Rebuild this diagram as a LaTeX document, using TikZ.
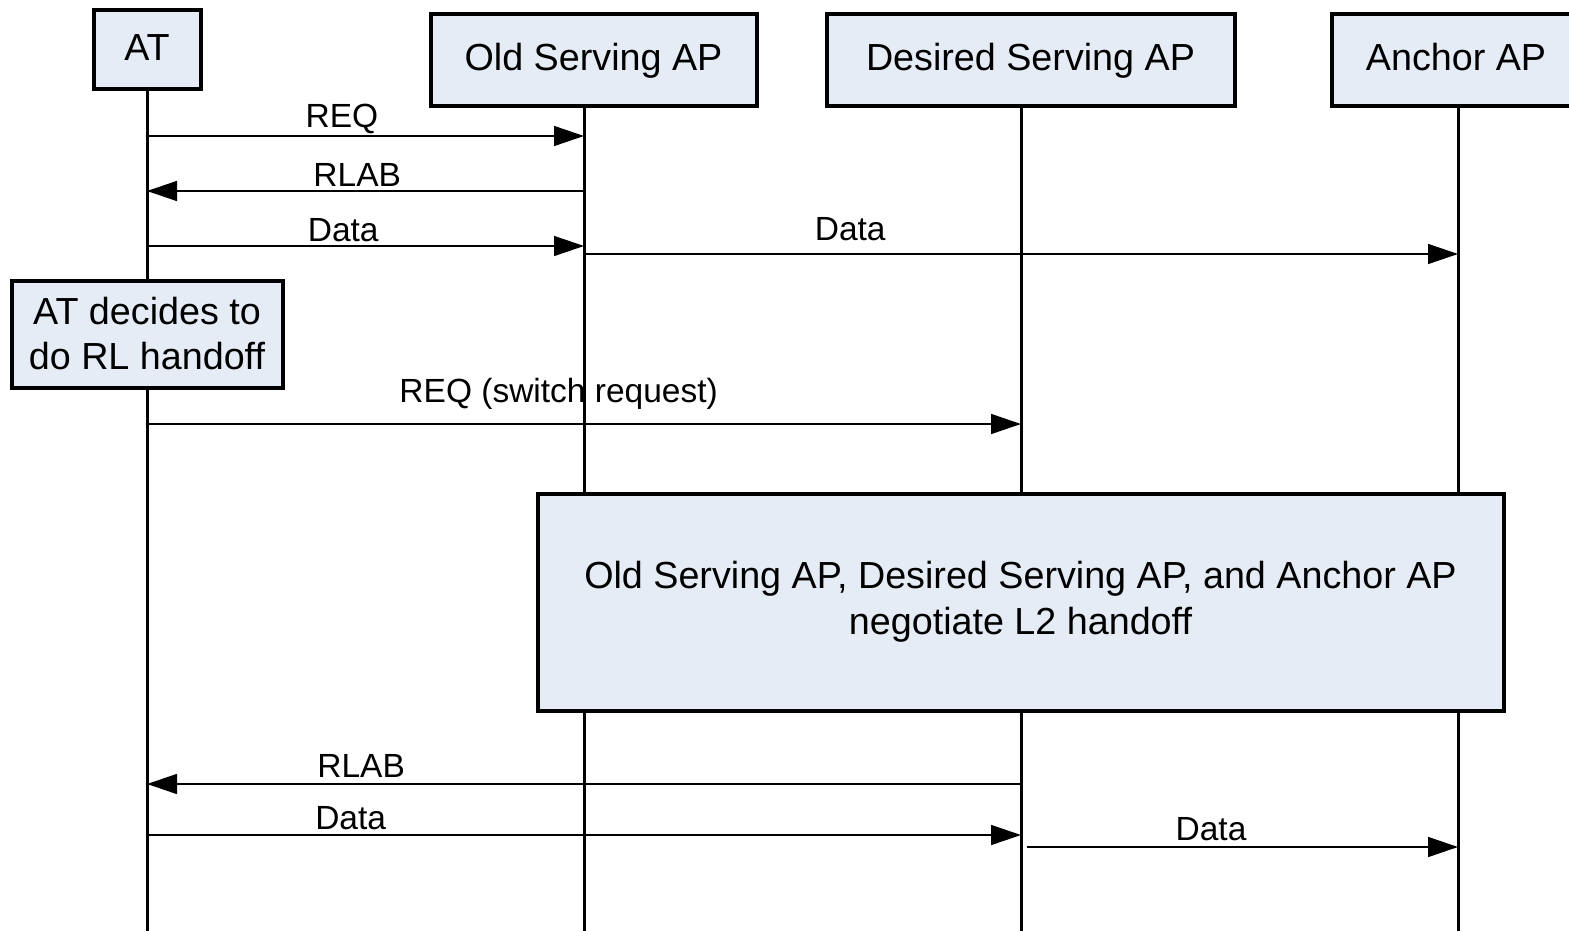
\documentclass[tikz,border=0pt]{standalone}
\usepackage{fontspec}
\setmainfont{Liberation Sans}
\usetikzlibrary{positioning,arrows.meta}
\definecolor{boxfill}{RGB}{230,236,246}
\tikzset{
  actor/.style={draw, line width=4pt, fill=boxfill, minimum height=92pt, align=center,
    font=\fontsize{37.7}{45}\selectfont},
  head/.style={actor, text height=27pt, text depth=6pt},
  life/.style={line width=3pt},
  msg/.style={line width=1.5pt, -{Triangle[length=30pt,width=20pt]}},
  lbl/.style={anchor=base, inner sep=0pt, font=\fontsize{33.5}{40}\selectfont},
}

\begin{document}
\begin{tikzpicture}[x=1pt, y=-1pt]
  \useasboundingbox (0,0) rectangle (1569,931);

  % lifelines
  \coordinate (ATl) at (147,931);
  \coordinate (OSAPl) at (584,931);
  \coordinate (DSAPl) at (1021,931);
  \coordinate (AAPl) at (1458,931);
  \draw[life] (ATl |- 0,90) -- (ATl);
  \draw[life] (OSAPl |- 0,106) -- (OSAPl);
  \draw[life] (DSAPl |- 0,106) -- (DSAPl);
  \draw[life] (AAPl |- 0,106) -- (AAPl);

  % participants
  \node[head, minimum width=107pt, minimum height=79pt] (AT) at (147,50) {AT};
  \node[head, minimum width=326pt] (OSAP) at (593.5,60) {Old Serving AP};
  \node[head, minimum width=408pt] (DSAP) at (1030.5,60) {Desired Serving AP};
  \node[head, minimum width=248pt] (AAP) at (1456,60) {Anchor AP};

  \node[actor, minimum width=271pt, minimum height=107pt] (DEC) at (147,334) {AT decides to\\do RL handoff};
  \node[actor, minimum width=966pt, minimum height=217pt, font=\fontsize{37.7}{46}\selectfont] (NEG) at (1020.5,602)
    {Old Serving AP, Desired Serving AP, and Anchor AP\\negotiate L2 handoff};

  % messages
  \draw[msg] (ATl |- 0,136) -- node[lbl, pos=0.446, yshift=8pt] {REQ} (OSAPl |- 0,136);
  \draw[msg] (OSAPl |- 0,191) -- node[lbl, pos=0.519, yshift=4.5pt] {RLAB} (ATl |- 0,191);
  \draw[msg] (ATl |- 0,246) -- node[lbl, pos=0.449, yshift=5pt] {Data} (OSAPl |- 0,246);
  \draw[msg] ([xshift=2pt]OSAPl |- 0,254) -- node[lbl, pos=0.303, yshift=14pt] {Data} (AAPl |- 0,254);
  \draw[msg] (ATl |- 0,424) -- node[lbl, pos=0.471, yshift=22pt] {REQ (switch request)} (DSAPl |- 0,424);
  \draw[msg] (DSAPl |- 0,784) -- node[lbl, pos=0.755, yshift=7pt] {RLAB} (ATl |- 0,784);
  \draw[msg] (ATl |- 0,835) -- node[lbl, pos=0.233, yshift=6pt] {Data} (DSAPl |- 0,835);
  \draw[msg] ([xshift=6pt]DSAPl |- 0,847) -- node[lbl, pos=0.427, yshift=7pt] {Data} (AAPl |- 0,847);
\end{tikzpicture}
\end{document}
